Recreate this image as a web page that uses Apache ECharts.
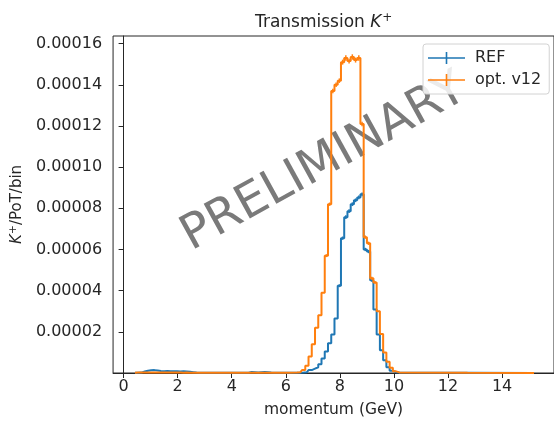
<!DOCTYPE html>
<html>
<head>
<meta charset="utf-8">
<script src="https://cdn.jsdelivr.net/npm/echarts@6/dist/echarts.min.js"></script>
<style>
  html, body { margin: 0; padding: 0; background: #ffffff; }
  #chart { width: 554px; height: 423px; }
</style>
</head>
<body>
<div id="chart"></div>
<script>
// Bin centres (GeV) of the momentum histogram; empty stretches are left out,
// the step line stays on zero between them.
const momentum = [
  0.42, 0.54, 0.66, 0.78, 0.90, 1.02, 1.14, 1.26, 1.38, 1.50, 1.62, 1.74, 1.86, 1.98, 2.10, 2.22, 2.34, 2.46, 2.58, 2.70, 2.82,
  4.62, 4.74, 4.86, 4.98, 5.10, 5.22, 5.34, 5.46, 5.58,
  6.42, 6.54, 6.66, 6.78, 6.90, 7.02, 7.14, 7.26, 7.38, 7.50, 7.62, 7.74, 7.86, 7.98, 8.10, 8.22, 8.34, 8.46, 8.58, 8.70,
  8.82, 8.94, 9.06, 9.18, 9.30, 9.42, 9.54, 9.66, 9.78, 9.90, 10.02, 10.14, 10.26,
  15.18
];

// K+ per PoT per bin, in units of 1e-6
const refValues = [
  0.1, 0.1, 0.2, 0.7, 1.1, 1.3, 1.4, 1.2, 1.0, 0.9, 1.0, 0.8, 0.8, 0.9, 0.7, 0.8, 0.7, 0.6, 0.4, 0.2, 0.1,
  0.1, 0.5, 0.4, 0.2, 0.4, 0.5, 0.4, 0.2, 0.1,
  0.1, 0.1, 0.2, 0.4, 1.4, 2.1, 2.8, 4.2, 7.1, 10.5, 14.4, 18.7, 26.5, 42.4, 65.5, 75.7, 78.6, 82.0, 83.9, 85.3,
  86.8, 60.0, 59.0, 45.0, 30.8, 18.7, 11.0, 6.2, 2.8, 1.1, 0.4, 0.2, 0.1,
  0.0
];
const optValues = [
  0.1, 0.2, 0.2, 0.3, 0.3, 0.3, 0.2, 0.3, 0.2, 0.2, 0.2, 0.2, 0.2, 0.2, 0.2, 0.1, 0.2, 0.1, 0.1, 0.1, 0.1,
  0.1, 0.1, 0.1, 0.1, 0.1, 0.1, 0.1, 0.1, 0.1,
  0.2, 0.4, 1.4, 3.5, 8.0, 14.0, 22.0, 28.0, 39.0, 57.0, 82.0, 137.0, 140.0, 142.0, 151.0, 153.0, 151.5, 153.5, 152.0, 153.0,
  121.0, 66.0, 63.0, 46.0, 44.0, 30.0, 19.0, 10.0, 5.5, 2.5, 0.8, 0.3, 0.1,
  0.0
];
// statistical uncertainties, same units
const refErrors = [
  0.1, 0.1, 0.1, 0.2, 0.2, 0.2, 0.2, 0.2, 0.2, 0.2, 0.2, 0.2, 0.2, 0.2, 0.2, 0.2, 0.2, 0.2, 0.1, 0.1, 0.1,
  0.1, 0.2, 0.2, 0.1, 0.2, 0.2, 0.2, 0.1, 0.1,
  0.1, 0.1, 0.1, 0.1, 0.2, 0.2, 0.2, 0.3, 0.3, 0.4, 0.4, 0.5, 0.6, 0.7, 0.8, 0.9, 0.9, 0.9, 0.9, 0.9,
  0.9, 0.8, 0.8, 0.7, 0.6, 0.5, 0.4, 0.3, 0.2, 0.1, 0.1, 0.1, 0.1,
  0.0
];
const optErrors = [
  0.1, 0.1, 0.1, 0.1, 0.1, 0.1, 0.1, 0.1, 0.1, 0.1, 0.1, 0.1, 0.1, 0.1, 0.1, 0.1, 0.1, 0.1, 0.1, 0.1, 0.1,
  0.1, 0.1, 0.1, 0.1, 0.1, 0.1, 0.1, 0.1, 0.1,
  0.1, 0.1, 0.1, 0.2, 0.3, 0.4, 0.5, 0.5, 0.6, 0.7, 0.8, 1.1, 1.1, 1.1, 1.2, 1.3, 1.2, 1.3, 1.2, 1.3,
  1.1, 0.8, 0.8, 0.7, 0.7, 0.5, 0.4, 0.3, 0.2, 0.2, 0.1, 0.1, 0.1,
  0.0
];

const xTicks = [0, 2, 4, 6, 8, 10, 12, 14];
const yTicks = [0.00002, 0.00004, 0.00006, 0.00008, 0.00010, 0.00012, 0.00014, 0.00016];
const seriesNames = ['REF', 'opt. v12'];
const seriesColors = ['#1f77b4', '#ff7f0e'];
const UNIT = 1e-6;

const FONT = 'DejaVu Sans';
const INK = '#262626';

function stepData(vals) {
  return momentum.map((m, i) => [m, vals[i] * UNIT]);
}
function errorData(vals, errs) {
  return momentum.map((m, i) => [m, (vals[i] - errs[i]) * UNIT, (vals[i] + errs[i]) * UNIT]);
}
function stepSeries(idx, vals) {
  return {
    type: 'line',
    name: seriesNames[idx],
    data: stepData(vals),
    step: 'middle',
    showSymbol: false,
    symbol: 'none',
    color: seriesColors[idx],
    lineStyle: { color: seriesColors[idx], width: 2 },
    z: 3 + idx * 2,
    silent: true,
    animation: false
  };
}
function errorSeries(idx, vals, errs) {
  const color = seriesColors[idx];
  return {
    type: 'custom',
    name: seriesNames[idx],
    data: errorData(vals, errs),
    encode: { x: 0, y: [1, 2] },
    z: 4 + idx * 2,
    silent: true,
    animation: false,
    renderItem(params, api) {
      const x = api.value(0);
      const lo = api.coord([x, api.value(1)]);
      const hi = api.coord([x, api.value(2)]);
      if (Math.abs(hi[1] - lo[1]) < 2.5) return null;
      return {
        type: 'line',
        shape: { x1: lo[0], y1: lo[1], x2: hi[0], y2: hi[1] },
        style: { stroke: color, lineWidth: 1.5 }
      };
    }
  };
}

const plusIcon = 'path://M0,5.2h37v1.6h-37z M17.7,0h1.6v12h-1.6z';

const chart = echarts.init(document.getElementById('chart'), null, { renderer: 'canvas' });
chart.setOption({
  animation: false,
  backgroundColor: '#ffffff',
  title: {
    text: '{a|Transmission }{k|K}{s|+}',
    left: 250,
    top: 7,
    textStyle: {
      fontWeight: 'normal',
      rich: {
        a: { fontFamily: FONT, fontSize: 17, fontWeight: 'normal', color: INK },
        k: { fontFamily: FONT, fontSize: 17, fontWeight: 'normal', fontStyle: 'italic', color: INK },
        s: { fontFamily: FONT, fontSize: 12, fontWeight: 'normal', color: INK, padding: [0, 0, 9, 1] }
      }
    }
  },
  grid: {
    left: 112, right: -4, top: 36, bottom: 47.5,
    show: true, borderColor: INK, borderWidth: 1, backgroundColor: 'transparent'
  },
  legend: {
    orient: 'vertical',
    left: 423, top: 44,
    padding: [4, 8, 4, 5],
    itemGap: 2,
    itemWidth: 37, itemHeight: 12,
    borderColor: '#d2d2d2', borderWidth: 1, borderRadius: 3,
    backgroundColor: 'rgba(255,255,255,0.85)',
    textStyle: { fontFamily: FONT, fontSize: 16, color: INK, lineHeight: 20, padding: [0, 0, 0, 5] },
    selectedMode: false,
    data: seriesNames.map((n, i) => ({ name: n, icon: plusIcon, itemStyle: { color: seriesColors[i] } }))
  },
  xAxis: {
    type: 'value',
    min: -0.39, max: 15.92,
    name: 'momentum (GeV)',
    nameLocation: 'middle',
    nameGap: 29,
    nameTextStyle: { fontFamily: FONT, fontSize: 15.5, color: INK },
    splitLine: { show: false },
    axisLine: { show: true, onZero: false, lineStyle: { color: INK, width: 1 } },
    axisTick: { show: true, length: 5, customValues: xTicks, lineStyle: { color: INK, width: 1 } },
    axisLabel: { customValues: xTicks, margin: 6, fontFamily: FONT, fontSize: 16, color: INK }
  },
  yAxis: {
    type: 'value',
    min: 0, max: 0.0001637,
    name: '{k|K}{s|+}{a|/PoT/bin}',
    nameLocation: 'middle',
    nameRotate: 90,
    nameGap: 86,
    nameTextStyle: {
      rich: {
        a: { fontFamily: FONT, fontSize: 15, color: INK },
        k: { fontFamily: FONT, fontSize: 15, fontStyle: 'italic', color: INK },
        s: { fontFamily: FONT, fontSize: 11, color: INK, padding: [0, 0, 8, 0] }
      }
    },
    splitLine: { show: false },
    axisLine: { show: true, lineStyle: { color: INK, width: 1 } },
    axisTick: { show: true, length: 5, customValues: yTicks, lineStyle: { color: INK, width: 1 } },
    axisLabel: {
      customValues: yTicks, margin: 11, fontFamily: FONT, fontSize: 16, color: INK,
      formatter: v => v.toFixed(5)
    }
  },
  graphic: [{
    type: 'text',
    x: 324, y: 163,
    rotation: 29 * Math.PI / 180,
    z: 1,
    silent: true,
    style: {
      text: 'PRELIMINARY',
      font: '48px "DejaVu Sans"',
      fill: '#7a7a7a',
      align: 'center',
      verticalAlign: 'middle'
    }
  }],
  series: [
    stepSeries(0, refValues),
    errorSeries(0, refValues, refErrors),
    stepSeries(1, optValues),
    errorSeries(1, optValues, optErrors)
  ]
});
</script>
</body>
</html>
